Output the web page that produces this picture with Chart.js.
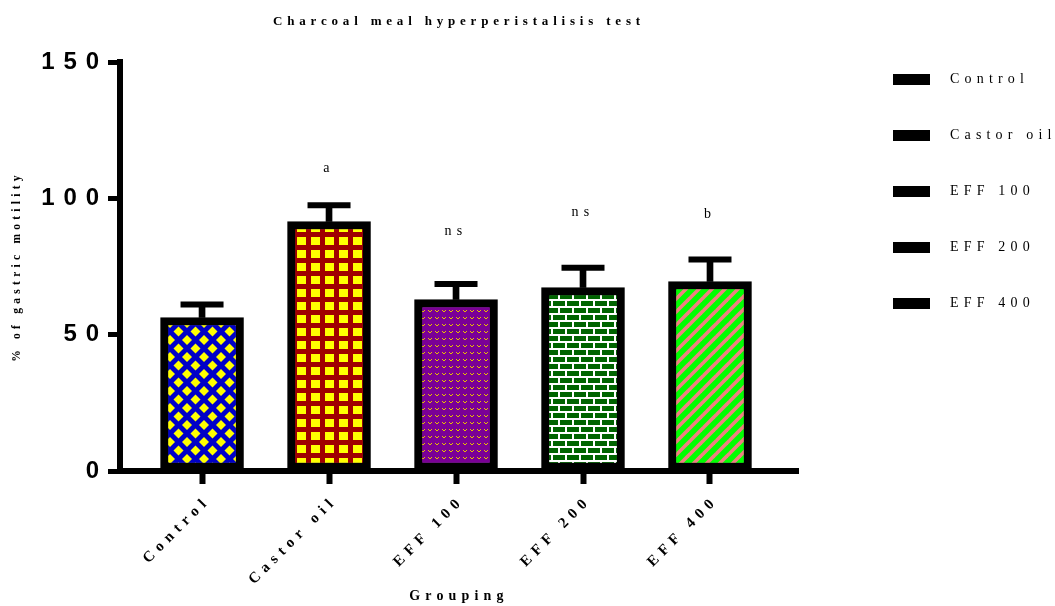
<!DOCTYPE html>
<html>
<head>
<meta charset="utf-8">
<title>Charcoal meal hyperperistalisis test</title>
<script src="https://cdn.jsdelivr.net/npm/chart.js@4.4.1/dist/chart.umd.min.js"></script>
<style>
  html, body { margin: 0; padding: 0; background: #fff; }
  canvas { display: block; }
</style>
</head>
<body>
<canvas id="chart" width="1055" height="606"></canvas>
<script>
// data
const groups = ['Control', 'Castor oil', 'EFF 100', 'EFF 200', 'EFF 400'];
const means = [56.3, 91.5, 62.9, 67.3, 69.5];
const errors = [4.8, 6.0, 5.7, 7.2, 8.1];
const sigMarks = ['', 'a', 'ns', 'ns', 'b'];
const sigLevels = [0, 110.9, 87.8, 94.8, 94.0];
const yTicks = [0, 50, 100, 150];

const SERIF = '"Liberation Serif", "DejaVu Serif", serif';
const SANS = '"Liberation Sans", Arial, sans-serif';

document.addEventListener('DOMContentLoaded', () => {
    const canvas = document.getElementById('chart');
    const ctx = canvas.getContext('2d');

    // 1. fill patterns (Prism style)
    const makeTile = (w, h, draw) => {
        const c = document.createElement('canvas');
        c.width = w; c.height = h;
        draw(c.getContext('2d'), w, h);
        return c;
    };
    const makePattern = (w, h, draw) => ctx.createPattern(makeTile(w, h, draw), 'repeat');

    const diamonds = makePattern(17, 17, (g, w) => {
        g.fillStyle = '#0000c8';
        g.fillRect(0, 0, w, w);
        g.fillStyle = '#ffff00';
        const r = 5;
        [[0, 0], [w, 0], [0, w], [w, w], [w / 2, w / 2]].forEach(([cx, cy]) => {
            g.beginPath();
            g.moveTo(cx, cy - r); g.lineTo(cx + r, cy); g.lineTo(cx, cy + r); g.lineTo(cx - r, cy);
            g.closePath(); g.fill();
        });
    });

    const squares = makePattern(14, 13, (g, w, h) => {
        g.fillStyle = '#a00000';
        g.fillRect(0, 0, w, h);
        g.fillStyle = '#ffff00';
        g.fillRect(3, 3, 9, 8);
    });

    const specks = makePattern(7, 7, (g, w, h) => {
        g.fillStyle = '#7a0096';
        g.fillRect(0, 0, w, h);
        g.fillStyle = '#e6c200';
        g.fillRect(1, 2, 1, 1);
        g.fillRect(4, 2, 1, 1);
        g.fillRect(2, 3, 2, 1);
    });

    const bricks = makePattern(14, 14, (g, w, h) => {
        g.fillStyle = '#ffffff';
        g.fillRect(0, 0, w, h);
        g.fillStyle = '#006400';
        g.fillRect(0, 0, 12, 5);
        g.fillRect(7, 7, 12, 5);
        g.fillRect(-7, 7, 12, 5);
    });

    const stripes = makePattern(13, 13, (g, w) => {
        g.fillStyle = '#00ff00';
        g.fillRect(0, 0, w, w);
        g.strokeStyle = '#f08080';
        g.lineWidth = 3.6;
        [0, w, 2 * w].forEach(c => {
            g.beginPath();
            g.moveTo(c + 3, -3);
            g.lineTo(-3, c + 3);
            g.stroke();
        });
    });

    const fills = [diamonds, squares, specks, bricks, stripes];

    // legend swatch: plain black bar
    const swatch = makeTile(37, 11, (g, w, h) => {
        g.fillStyle = '#000';
        g.fillRect(0, 0, w, h);
    });

    // 2. datasets: one bar per group, then error stems and caps
    const barSets = groups.map((name, i) => ({
        label: name,
        data: [{ x: i, y: means[i] }],
        backgroundColor: fills[i],
        borderColor: '#000',
        borderWidth: 8,
        borderSkipped: false,
        barThickness: 83,
        grouped: false
    }));

    const stemSet = {
        label: 'err',
        data: groups.map((_, i) => ({ x: i, y: [means[i], means[i] + errors[i]] })),
        backgroundColor: '#000',
        borderWidth: 0,
        barThickness: 6,
        grouped: false
    };

    const capSet = {
        type: 'line',
        label: 'cap',
        data: groups.map((_, i) => ({ x: i, y: means[i] + errors[i] })),
        showLine: false,
        pointStyle: 'line',
        pointRadius: 21.5,
        pointBorderWidth: 6,
        pointBorderColor: '#000',
        borderColor: '#000'
    };

    // 3. plugins: letter spacing + significance letters
    const SPACING = '0.37em';
    const spacing = {
        id: 'spacing',
        beforeLayout: (c) => { c.ctx.letterSpacing = SPACING; },
        beforeDraw: (c) => { c.ctx.letterSpacing = SPACING; }
    };

    const sigLabels = {
        id: 'sigLabels',
        afterDatasetsDraw: (c) => {
            const g = c.ctx;
            const { x, y } = c.scales;
            g.save();
            g.font = '14px ' + SERIF;
            g.fillStyle = '#000';
            g.textAlign = 'center';
            g.textBaseline = 'middle';
            sigMarks.forEach((t, i) => {
                if (!t) return;
                g.fillText(t, x.getPixelForValue(i), y.getPixelForValue(sigLevels[i]));
            });
            g.restore();
        }
    };

    new Chart(ctx, {
        type: 'bar',
        data: { datasets: [...barSets, stemSet, capSet] },
        plugins: [spacing, sigLabels],
        options: {
            responsive: false,
            animation: false,
            events: [],
            layout: { padding: 0 },
            plugins: {
                tooltip: { enabled: false },
                title: {
                    display: true,
                    text: 'Charcoal meal hyperperistalisis test',
                    color: '#000',
                    fullSize: false,
                    font: { family: SERIF, size: 13, weight: 'bold' },
                    padding: { top: 14, bottom: 32.4 }
                },
                legend: {
                    position: 'right',
                    align: 'start',
                    maxWidth: 217,
                    title: { display: true, text: '', font: { size: 12 }, padding: { top: 8, bottom: 8 } },
                    labels: {
                        usePointStyle: true,
                        pointStyleWidth: 63,
                        boxHeight: 11,
                        padding: 42,
                        color: '#000',
                        font: { family: SERIF, size: 14 },
                        generateLabels: () => groups.map((name, i) => ({
                            text: name,
                            fontColor: '#000',
                            fillStyle: '#000',
                            strokeStyle: '#000',
                            lineWidth: 0,
                            pointStyle: swatch,
                            datasetIndex: i
                        }))
                    }
                }
            },
            scales: {
                x: {
                    type: 'linear',
                    min: -0.646,
                    max: 4.693,
                    offset: false,
                    afterBuildTicks: (s) => { s.ticks = groups.map((_, i) => ({ value: i })); },
                    afterFit: (s) => { s.height = 135; },
                    border: { display: true, color: '#000', width: 6 },
                    grid: { display: true, offset: false, drawOnChartArea: false, drawTicks: true, tickLength: 13, tickWidth: 6, tickColor: '#000' },
                    ticks: {
                        autoSkip: false,
                        maxRotation: 45,
                        minRotation: 45,
                        padding: 8,
                        labelOffset: 6,
                        color: '#000',
                        font: { family: SERIF, size: 15, weight: 'bold' },
                        callback: (v) => groups[v]
                    },
                    title: {
                        display: true,
                        text: 'Grouping',
                        color: '#000',
                        font: { family: SERIF, size: 14, weight: 'bold' },
                        padding: { top: 0, bottom: 1 }
                    }
                },
                y: {
                    min: 0,
                    max: 150,
                    afterBuildTicks: (s) => { s.ticks = yTicks.map(v => ({ value: v })); },
                    afterFit: (s) => { s.width = 120; },
                    border: { display: true, color: '#000', width: 6 },
                    grid: { display: true, drawOnChartArea: false, drawTicks: true, tickLength: 12, tickWidth: 5, tickColor: '#000' },
                    ticks: {
                        padding: 0,
                        color: '#000',
                        font: { family: SANS, size: 24, weight: 'bold' }
                    },
                    title: {
                        display: true,
                        text: '% of gastric motility',
                        color: '#000',
                        font: { family: SERIF, size: 11.5, weight: 'bold' },
                        padding: { top: 10, bottom: 0 }
                    }
                },
                // empty spacer between plot and legend
                gap: {
                    type: 'linear',
                    position: 'right',
                    display: true,
                    afterFit: (s) => { s.width = 40; },
                    border: { display: false },
                    grid: { display: false },
                    ticks: { display: false }
                }
            }
        }
    });
});
</script>
</body>
</html>
